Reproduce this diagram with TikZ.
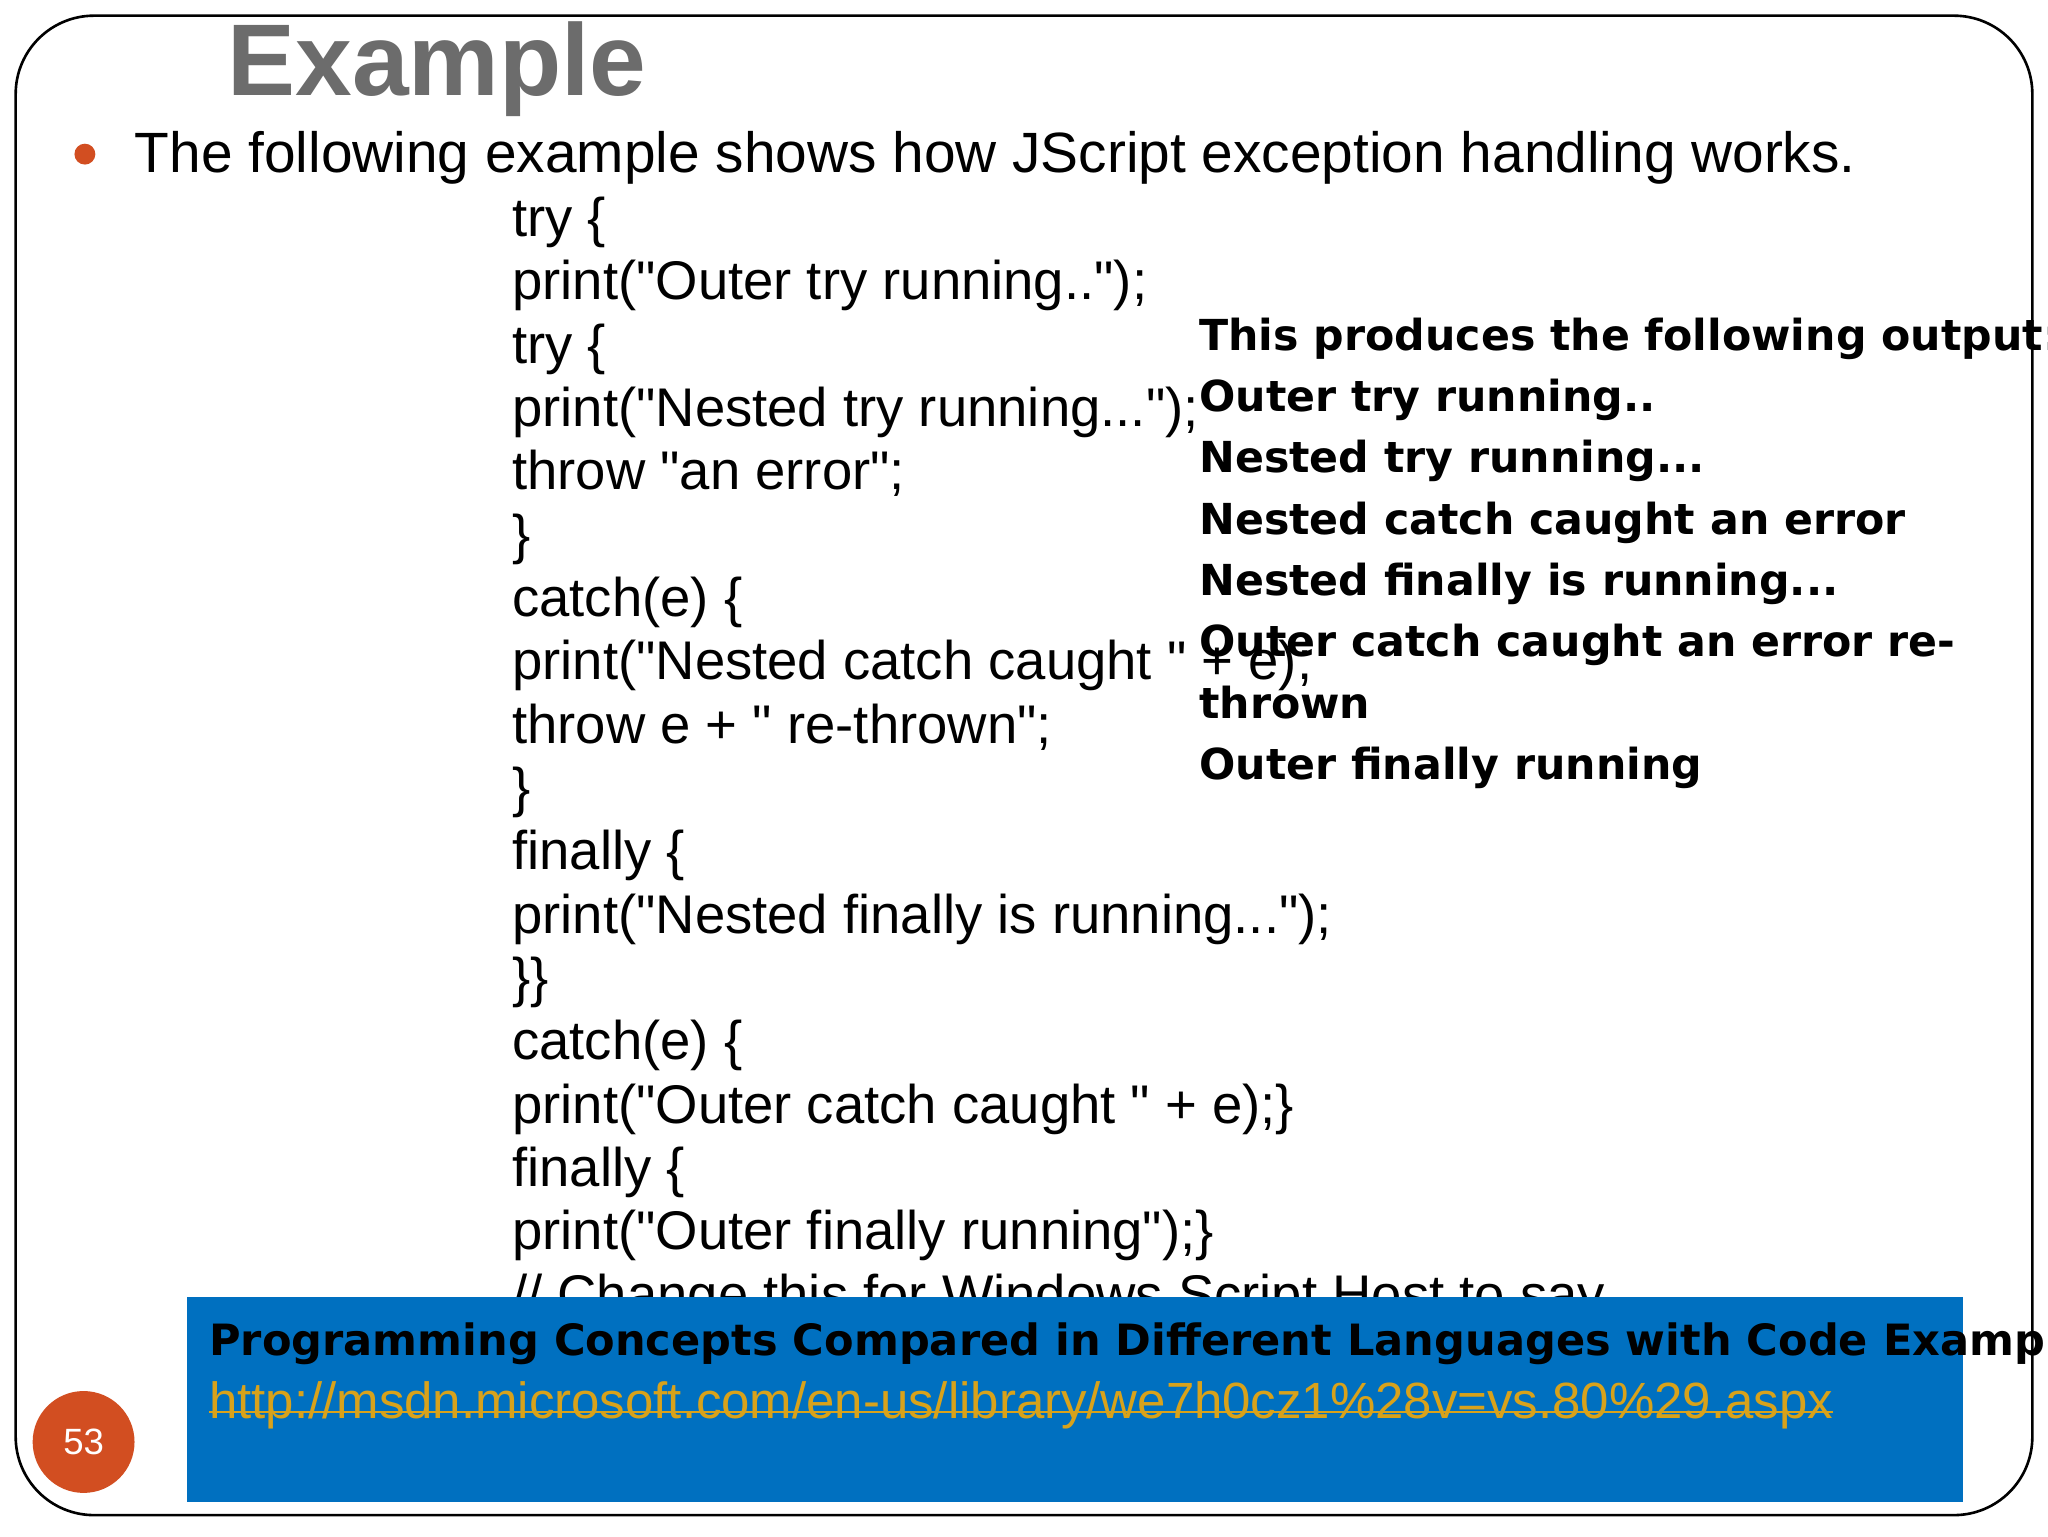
\documentclass[tikz,border=0pt]{standalone}
\usepackage{fontspec}
\setmainfont{Liberation Sans}
\newfontfamily\outfont{DejaVu Sans}
\definecolor{orng}{HTML}{D24E21}
\definecolor{blu}{HTML}{0070C0}
\definecolor{gold}{HTML}{D8A21B}
\newcommand{\qq}{\textquotedbl}
\begin{document}
\begin{tikzpicture}[x=1pt,y=-1pt,
  code/.style={anchor=base west,inner sep=0,font=\fontsize{41.7}{48}\selectfont},
  outl/.style={anchor=base west,inner sep=0,font=\outfont\bfseries\fontsize{32.7}{40}\selectfont}]
\useasboundingbox (0,0) rectangle (1568,1176);
\fill[white] (0,0) rectangle (1568,1176);
\draw[line width=2pt,rounded corners=60pt] (12,12) rectangle (1556,1160);
\node[anchor=base west,inner sep=0,text=gray!85!black,font=\bfseries\fontsize{78}{80}\selectfont] (title) at (174,73) {Example};
\fill[orng] (65,118) circle (8) coordinate (bul);
\node[anchor=base west,inner sep=0,font=\fontsize{43.5}{48}\selectfont] (intro) at (103,132) {The following example shows how JScript exception handling works.};
\node[code] (c0) at (392,181) {try \{};
\node[code] (c1) at (392,229.5) {print(\qq Outer try running..\qq);};
\node[code] (c2) at (392,278) {try \{};
\node[code] (c3) at (392,326.5) {print(\qq Nested try running...\qq);};
\node[code] (c4) at (392,375) {throw \qq an error\qq;};
\node[code] (c5) at (392,423.5) {\}};
\node[code] (c6) at (392,472) {catch(e) \{};
\node[code] (c7) at (392,520.5) {print(\qq Nested catch caught \qq\ + e);};
\node[code] (c8) at (392,569) {throw e + \qq\ re-thrown\qq;};
\node[code] (c9) at (392,617.5) {\}};
\node[code] (c10) at (392,666) {finally \{};
\node[code] (c11) at (392,714.5) {print(\qq Nested finally is running...\qq);};
\node[code] (c12) at (392,763) {\}\}};
\node[code] (c13) at (392,811.5) {catch(e) \{};
\node[code] (c14) at (392,860) {print(\qq Outer catch caught \qq\ + e);\}};
\node[code] (c15) at (392,908.5) {finally \{};
\node[code] (c16) at (392,957) {print(\qq Outer finally running\qq);\}};
\node[code] (c17) at (392,1005.5) {// Change this for Windows Script Host to say};
\node[outl] (o0) at (918,268) {This produces the following output:};
\node[outl] (o1) at (918,315) {Outer try running..};
\node[outl] (o2) at (918,362) {Nested try running...};
\node[outl] (o3) at (918,409) {Nested catch caught an error};
\node[outl] (o4) at (918,456) {Nested finally is running...};
\node[outl] (o5) at (918,503) {Outer catch caught an error re-};
\node[outl] (o6) at (918,550) {thrown};
\node[outl] (o7) at (918,597) {Outer finally running};
\fill[blu] (143,993) rectangle (1503,1150);
\node[anchor=base west,inner sep=0,font=\outfont\bfseries\fontsize{33}{40}\selectfont] (src) at (160,1038) {Programming Concepts Compared in Different Languages with Code Examples};
\node[anchor=base west,inner sep=0,text=gold,font=\fontsize{39}{42}\selectfont] (lnk) at (160,1086) {http://msdn.microsoft.com/en-us/library/we7h0cz1\%28v=vs.80\%29.aspx};
\draw[gold,line width=1.5pt] ([yshift=5pt]lnk.base west) -- ([yshift=5pt]lnk.base east);
\fill[orng] (64,1104) circle (39) coordinate (pg);
\node[text=white,font=\fontsize{28}{30}\selectfont] (pgn) at (pg) {53};
\end{tikzpicture}
\end{document}
